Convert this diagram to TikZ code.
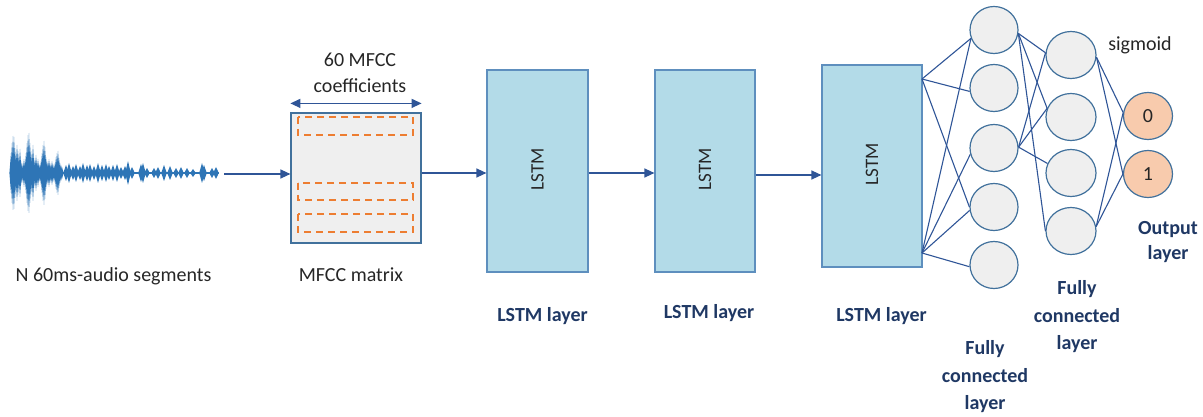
\documentclass[tikz,border=0pt]{standalone}
\usepackage{fontspec}
\setmainfont{Carlito}
\usetikzlibrary{arrows.meta,shapes.geometric,calc}
\definecolor{wave}{HTML}{2E75B6}
\definecolor{arrowc}{HTML}{2F5597}
\definecolor{lstmfill}{HTML}{B3DBE8}
\definecolor{lstmline}{HTML}{5E8FBE}
\definecolor{boxline}{HTML}{41719C}
\definecolor{grayfill}{HTML}{EFEFEF}
\definecolor{orangefill}{HTML}{F8CBAD}
\definecolor{dashorange}{HTML}{ED7D31}
\definecolor{navy}{HTML}{1F3864}
\definecolor{txt}{HTML}{262626}
\tikzset{
  arr/.style={draw=arrowc, line width=1.3pt, -{Triangle[length=10pt,width=9pt]}},
  darr/.style={draw=arrowc, line width=1.3pt, {Triangle[length=10pt,width=9pt]}-{Triangle[length=10pt,width=9pt]}},
  lstmbox/.style={draw=lstmline, line width=1.2pt, fill=lstmfill, minimum width=100pt, minimum height=202pt, inner sep=0pt},
  mfccbox/.style={draw=boxline, line width=1.2pt, fill=grayfill, minimum width=130pt, minimum height=130pt, inner sep=0pt},
  neuron/.style={ellipse, draw=boxline, line width=1.2pt, fill=grayfill, minimum width=48pt, minimum height=47pt, inner sep=0pt},
  outneuron/.style={ellipse, draw=boxline, line width=1.2pt, fill=orangefill, minimum width=49pt, minimum height=47pt, inner sep=0pt, text=txt},
  edge/.style={draw=arrowc, line width=1.1pt},
  dashrect/.style={draw=dashorange, line width=1.5pt, dash pattern=on 7pt off 5pt},
  plain/.style={text=txt, inner sep=0pt},
  boldlbl/.style={text=navy, font=\fontsize{20}{27.5}\selectfont\bfseries, align=center, inner sep=0pt},
}
\begin{document}
\begin{tikzpicture}[x=1pt,y=-1pt, font=\fontsize{20}{26}\selectfont]
\useasboundingbox (0,0) rectangle (1203,417);

% waveform
\draw[wave, line width=2.4pt] (11,173) -- (219,173);
\foreach \x/\h in {11/20,12/30,13/37,14/36,15/25,16/18,17/28,18/22,19/15,20/24,21/12,22/10,
  24/14,25/10,26/20,27/30,28/38,29/40,30/30,31/22,32/18,33/28,34/15,35/12,36/18,37/10,38/14,39/9,40/8,
  41/12,42/20,43/28,44/32,45/26,46/16,47/12,48/10,49/14,50/10,51/8,52/12,53/9,
  55/10,56/16,57/20,58/22,59/15,60/10,61/8,62/6}
  \fill[wave] (\x-1.6,173) -- (\x,173-\h) -- (\x+1.6,173) -- (\x,173+\h) -- cycle;
\foreach \x/\h in {66/8,69/10,73/7,76/9,80/7,83/10,87/8,90/9,94/7,98/10,102/8,106/9,109/7,113/8,117/9,121/6,125/7,128/12,132/6,
  141/9,143/10,147/5,154/5,158/6,164/8,170/7,176/5,181/6,187/5,193/4,202/10,204/8,212/5,216/6}
  \fill[wave] (\x-2.8,173) -- (\x,173-\h) -- (\x+2.8,173) -- (\x,173+\h) -- cycle;
\coordinate (wend) at (224,174);

% MFCC matrix
\node[mfccbox] (mfcc) at (356,178) {};
\draw[dashrect] (298,117) rectangle (413,135);
\draw[dashrect] (298,183) rectangle (413,200);
\draw[dashrect] (298,214) rectangle (413,232);
\draw[darr] ([yshift=9pt]mfcc.north west) -- ([yshift=9pt]mfcc.north east);
\node[plain, align=center] (coef) at (360,73) {60 MFCC\\coefficients};

% LSTM boxes
\node[lstmbox, minimum width=101pt] (L1) at (537.5,171) {};
\node[lstmbox] (L2) at (705,171) {};
\node[lstmbox] (L3) at (872,166) {};
\node[plain, rotate=90, font=\fontsize{19}{22}\selectfont] (t1) at (537.5,169) {LSTM};
\node[plain, rotate=90, font=\fontsize{19}{22}\selectfont] (t2) at (705,169) {LSTM};
\node[plain, rotate=90, font=\fontsize{19}{22}\selectfont] (t3) at (872,164) {LSTM};

% arrows
\draw[arr] (wend) -- (mfcc.west |- wend);
\draw[arr] ([yshift=5pt]mfcc.east) -- ([yshift=5pt]mfcc.east -| L1.west);
\draw[arr] ([yshift=-2pt]L1.east) -- ([yshift=-2pt]L1.east -| L2.west);
\draw[arr] ([yshift=-4pt]L2.east) -- ([yshift=-4pt]L2.east -| L3.west);

% labels
\node[plain, anchor=base] (lwave) at (113.5,281) {N 60ms-audio segments};
\node[plain, anchor=base] (lmfcc) at (351,281) {MFCC matrix};
\node[boldlbl, anchor=base] (ll1) at (542.5,321) {LSTM layer};
\node[boldlbl, anchor=base] (ll2) at (709,318) {LSTM layer};
\node[boldlbl, anchor=base] (ll3) at (881.5,321) {LSTM layer};

% network
\node[neuron] (c1) at (994,30) {};
\node[neuron] (c2) at (994,88) {};
\node[neuron] (c3) at (994,148) {};
\node[neuron] (c4) at (994,207) {};
\node[neuron] (c5) at (994,265) {};
\node[neuron, minimum width=50pt] (d1) at (1071,55) {};
\node[neuron, minimum width=50pt] (d2) at (1071,117) {};
\node[neuron, minimum width=50pt] (d3) at (1071,173) {};
\node[neuron, minimum width=50pt] (d4) at (1071,231) {};
\node[outneuron] (o1) at (1148,116) {0};
\node[outneuron] (o2) at (1148,174) {1};

\coordinate (A) at (922,79);
\coordinate (B) at (922,253);
\draw[edge] (A) -- (c1.200);
\draw[edge] (A) -- (c2.188);
\draw[edge] (A) -- (c4.180);
\draw[edge] (B) -- (c1.200);
\draw[edge] (B) -- (c3.195);
\draw[edge] (B) -- (c4.188);
\draw[edge] (B) -- (c5.184);
\draw[edge] (c1.-8) -- (d1.175);
\draw[edge] (c1.-8) -- (d2.160);
\draw[edge] (c1.-8) -- (d4.180);
\draw[edge] (c3.2) -- (d1.175);
\draw[edge] (c3.2) -- (d2.160);
\draw[edge] (c3.2) -- (d3.158);
\draw[edge] (d1.-5) -- (o1.172);
\draw[edge] (d1.-5) -- (o2.180);
\draw[edge] (d4.10) -- (o1.172);
\draw[edge] (d4.10) -- (o2.180);

\node[plain, anchor=base] (sig) at (1140,51) {sigmoid};
\node[boldlbl, font=\fontsize{20}{25}\selectfont\bfseries] (lout) at (1168,242) {Output\\layer};
\node[boldlbl] (lfc2) at (1077,317) {Fully\\connected\\layer};
\node[boldlbl] (lfc1) at (985,377) {Fully\\connected\\layer};
\end{tikzpicture}
\end{document}
